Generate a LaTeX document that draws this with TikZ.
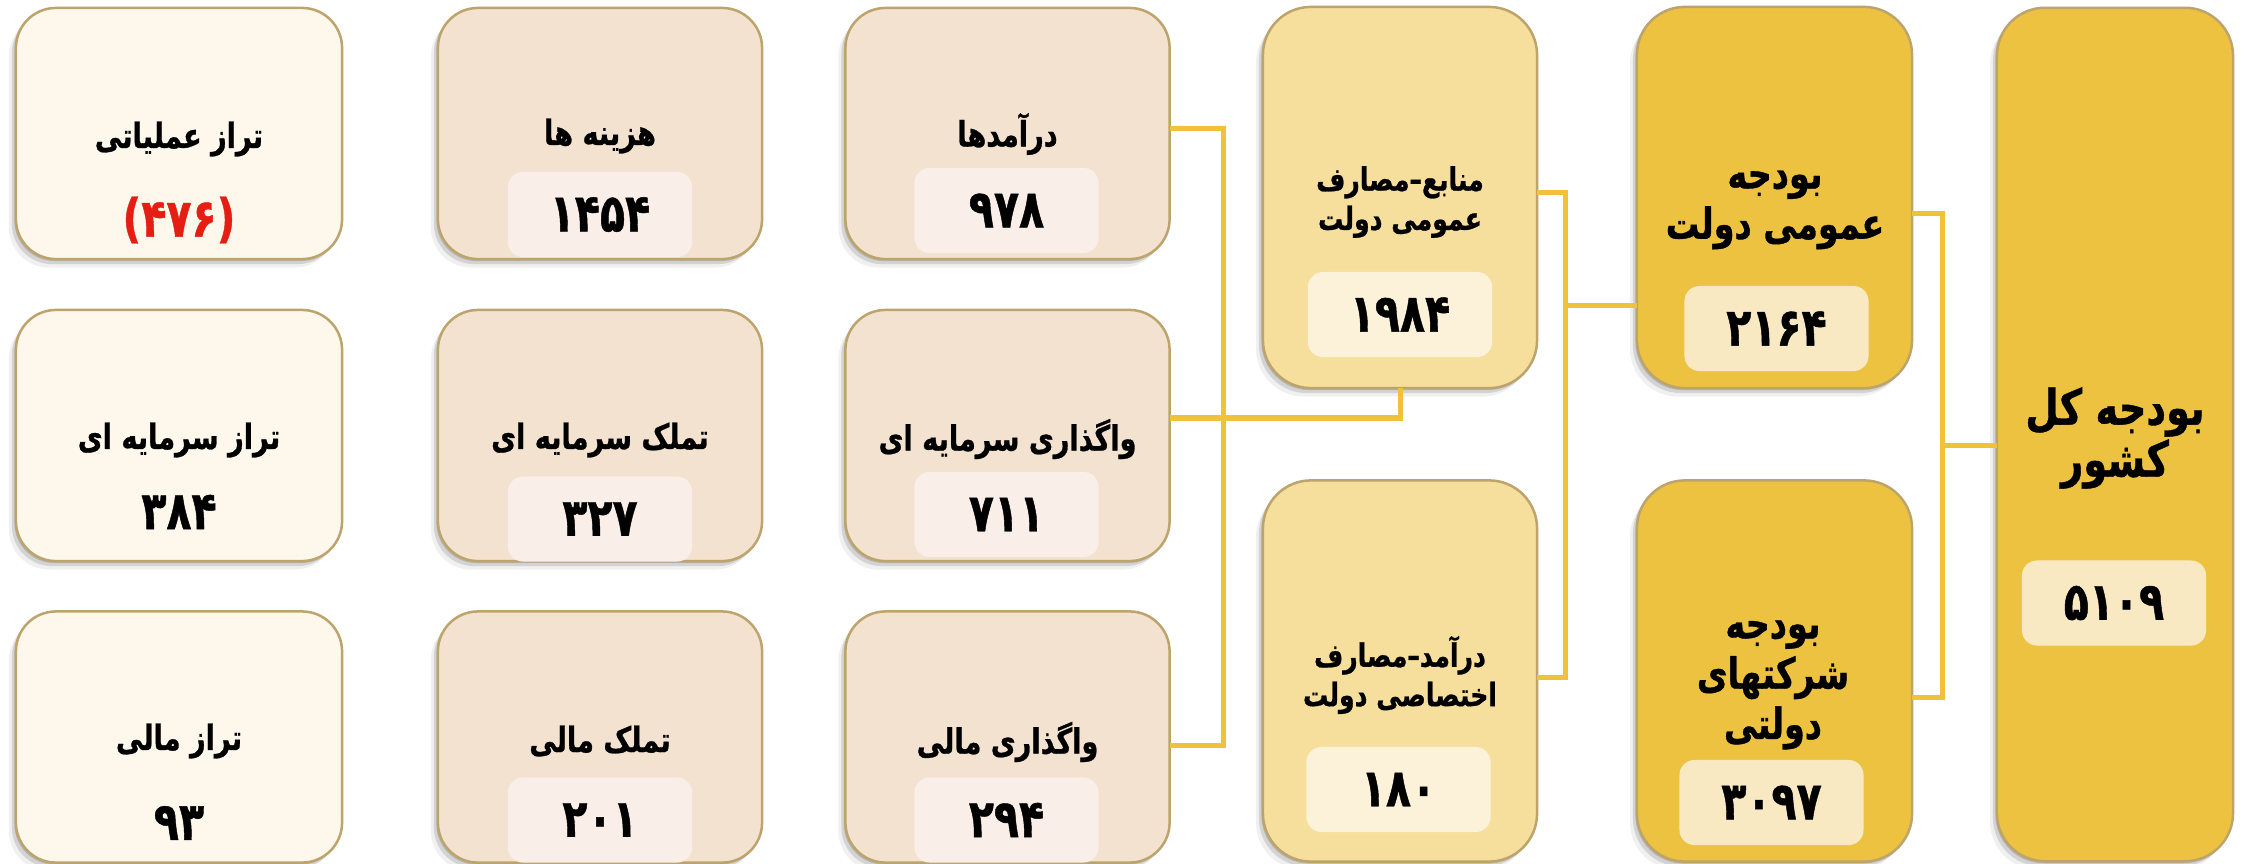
\documentclass[tikz,border=0pt]{standalone}
\usepackage{fontspec}
\newfontfamily\fa[Script=Arabic, FakeStretch=0.78, FakeBold=0.8]{DejaVu Sans}
\TeXXeTstate=1
\usetikzlibrary{shadows}
\newcommand\rtlx[1]{\beginR#1\endR}
\definecolor{creamF}{HTML}{FDF8EB}
\definecolor{peachF}{HTML}{F3E2CF}
\definecolor{peachI}{HTML}{F9EFE8}
\definecolor{lgoldF}{HTML}{F6DF9D}
\definecolor{lgoldI}{HTML}{FCF2DA}
\definecolor{goldF}{HTML}{EEC241}
\definecolor{goldI}{HTML}{F9E9C3}
\definecolor{edgeC}{HTML}{BCA46C}
\definecolor{lineC}{HTML}{F0C23A}
\definecolor{redN}{HTML}{E51E14}
\tikzset{
  box/.style={draw=edgeC, line width=0.025cm, rounded corners=0.4cm, inner sep=0pt, outer sep=0pt,
    drop shadow={shadow xshift=-0.015cm, shadow yshift=-0.02cm, opacity=0.14, fill=black},
    drop shadow={shadow xshift=-0.04cm, shadow yshift=-0.05cm, opacity=0.12, fill=black},
    drop shadow={shadow xshift=-0.07cm, shadow yshift=-0.085cm, opacity=0.06, fill=black}},
  box1/.style={box, fill=creamF, minimum width=3.26cm, minimum height=2.51cm},
  box2/.style={box, fill=peachF, minimum width=3.24cm, minimum height=2.51cm},
  box4/.style={box, fill=lgoldF, rounded corners=0.48cm, minimum width=2.74cm, minimum height=3.81cm},
  box5/.style={box, fill=goldF, rounded corners=0.48cm, minimum width=2.75cm, minimum height=3.81cm},
  box6/.style={box, fill=goldF, rounded corners=0.48cm, minimum width=2.36cm, minimum height=8.53cm},
  inbox/.style={rounded corners=0.15cm, minimum width=1.84cm, minimum height=0.85cm, inner sep=0pt,
    font=\fa\bfseries\fontsize{15}{17}\selectfont},
  numtxt/.style={inner sep=0pt, font=\fa\bfseries\fontsize{15}{17}\selectfont},
  ttl/.style={inner sep=0pt, align=center, font=\fa\bfseries\fontsize{9.9}{11}\selectfont},
  ttl4/.style={inner sep=0pt, align=center, font=\fa\bfseries\fontsize{9.15}{11.2}\selectfont},
  ttl5/.style={inner sep=0pt, align=center, font=\fa\bfseries\fontsize{12.2}{14.3}\selectfont},
  ttl6/.style={inner sep=0pt, align=center, font=\fa\bfseries\fontsize{14}{14.8}\selectfont},
  conn/.style={draw=lineC, line width=0.05cm}
}
\begin{document}
\begin{tikzpicture}[x=0.01cm,y=-0.01cm]
\useasboundingbox (0,0) rectangle (2244,863);
% column 1
\node[box1] (c1a) at (179,133.5) {};
\node[box1] (c1b) at (179,435.5) {};
\node[box1] (c1c) at (179,737) {};
\node[ttl] (t1a) at (179,139) {\rtlx{تراز عملیاتی}};
\node[numtxt, text=redN] (n1a) at (179,220) {(۴۷۶)};
\node[ttl] (t1b) at (179,440) {\rtlx{تراز سرمایه ای}};
\node[numtxt] (n1b) at (179,512) {۳۸۴};
\node[ttl] (t1c) at (179,741) {\rtlx{تراز مالی}};
\node[numtxt] (n1c) at (179,823) {۹۳};
% column 2
\node[box2] (c2a) at (600,133.5) {};
\node[box2] (c2b) at (600,435.5) {};
\node[box2] (c2c) at (600,737) {};
\node[ttl] (t2a) at (600,136) {\rtlx{هزینه ها}};
\node[inbox, fill=peachI] (n2a) at (600,214.5) {۱۴۵۴};
\node[ttl] (t2b) at (600,440) {\rtlx{تملک سرمایه ای}};
\node[inbox, fill=peachI] (n2b) at (600,519) {۳۲۷};
\node[ttl] (t2c) at (600,741) {\rtlx{تملک مالی}};
\node[inbox, fill=peachI] (n2c) at (600,820) {۲۰۱};
% column 3
\node[box2] (c3a) at (1007.5,133.5) {};
\node[box2] (c3b) at (1007.5,435.5) {};
\node[box2] (c3c) at (1007.5,737) {};
\node[ttl] (t3a) at (1007.5,134) {\rtlx{درآمدها}};
\node[inbox, fill=peachI] (n3a) at (1006.5,210.5) {۹۷۸};
\node[ttl] (t3b) at (1007.5,439) {\rtlx{واگذاری سرمایه ای}};
\node[inbox, fill=peachI] (n3b) at (1006.5,514.5) {۷۱۱};
\node[ttl] (t3c) at (1007.5,742) {\rtlx{واگذاری مالی}};
\node[inbox, fill=peachI] (n3c) at (1006.5,820) {۲۹۴};
% column 4
\node[box4] (c4a) at (1400,197.5) {};
\node[box4] (c4b) at (1400,671) {};
\node[ttl4] (t4a) at (1400,202) {\rtlx{منابع–مصارف}\\\rtlx{عمومی دولت}};
\node[inbox, fill=lgoldI] (n4a) at (1400,314.5) {۱۹۸۴};
\node[ttl4] (t4b) at (1400,675) {\rtlx{درآمد–مصارف}\\\rtlx{اختصاصی دولت}};
\node[inbox, fill=lgoldI] (n4b) at (1398.5,789.5) {۱۸۰};
% column 5
\node[box5] (c5a) at (1774.5,197.5) {};
\node[box5] (c5b) at (1774.5,671) {};
\node[ttl5] (t5a) at (1775,210) {\rtlx{بودجه}\\\rtlx{عمومی دولت}};
\node[inbox, fill=goldI] (n5a) at (1776.5,328.5) {۲۱۶۴};
\node[ttl5] (t5b) at (1773,685) {\rtlx{بودجه}\\\rtlx{شرکتهای}\\\rtlx{دولتی}};
\node[inbox, fill=goldI] (n5b) at (1771.5,802.5) {۳۰۹۷};
% column 6
\node[box6] (c6) at (2115,434.5) {};
\node[ttl6] (t6) at (2115,438) {\rtlx{بودجه کل}\\\rtlx{کشور}};
\node[inbox, fill=goldI] (n6) at (2114,603) {۵۱۰۹};
% connectors
\draw[conn] ([yshift=0.055cm]c3a.east) -- ++(54,0) |- ([yshift=-0.085cm]c3c.east);
\draw[conn] ([yshift=0.175cm]c3b.east) -| (c4a.south);
\draw[conn] ([yshift=0.055cm]c4a.east) -- ++(28,0) |- ([yshift=-0.06cm]c4b.east);
\draw[conn] ([yshift=-1.075cm]c5a.west) -- ++(-72,0);
\draw[conn] ([yshift=-0.155cm]c5a.east) -- ++(30,0) |- ([yshift=-0.26cm]c5b.east);
\draw[conn] ([yshift=-0.105cm]c6.west) -- ++(-55,0);
\end{tikzpicture}
\end{document}
